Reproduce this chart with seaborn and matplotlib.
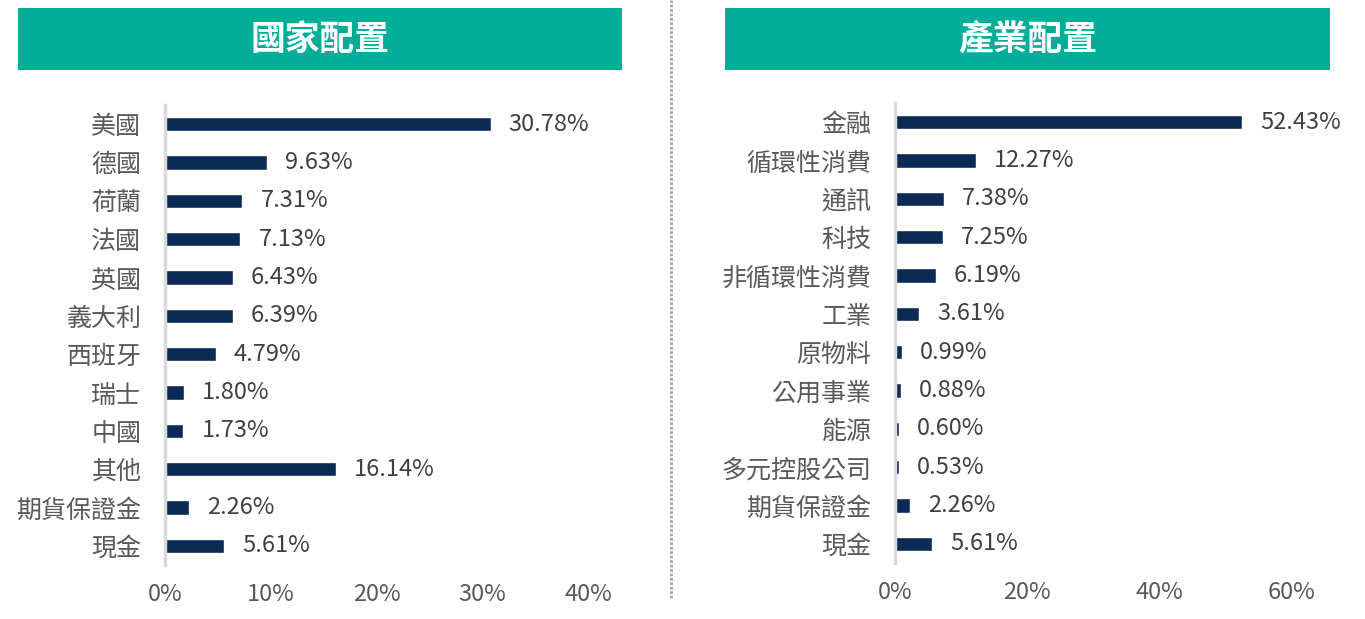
import pandas as pd
import seaborn as sns
import matplotlib.pyplot as plt
from matplotlib.patches import Rectangle
from matplotlib.lines import Line2D

# data
country_names = ['美國', '德國', '荷蘭', '法國', '英國', '義大利', '西班牙',
                 '瑞士', '中國', '其他', '期貨保證金', '現金']
country_pct = [30.78, 9.63, 7.31, 7.13, 6.43, 6.39, 4.79, 1.80, 1.73, 16.14, 2.26, 5.61]

sector_names = ['金融', '循環性消費', '通訊', '科技', '非循環性消費', '工業', '原物料',
                '公用事業', '能源', '多元控股公司', '期貨保證金', '現金']
sector_pct = [52.43, 12.27, 7.38, 7.25, 6.19, 3.61, 0.99, 0.88, 0.60, 0.53, 2.26, 5.61]

country_ticks = [0, 10, 20, 30, 40]
sector_ticks = [0, 20, 40, 60]

NAVY = '#0B2A56'
TEAL = '#00AE98'

sns.set_theme(style='white')
plt.rcParams['font.family'] = ['Noto Sans CJK TC', 'DejaVu Sans']

fig = plt.figure(figsize=(13.65, 6.19), dpi=100)


def draw_panel(rect, names, values, ticks, title, box):
    ax = fig.add_axes(rect)
    df = pd.DataFrame({'name': names, 'pct': values})
    sns.barplot(data=df, x='pct', y='name', orient='h', color=NAVY,
                width=0.37, saturation=1, ax=ax)
    ax.bar_label(ax.containers[0], labels=['%.2f%%' % v for v in values],
                 padding=13, fontsize=17, color='#404040')
    ax.set_xlim(ticks[0], ticks[-1])
    ax.set_ylim(len(names) - 0.5, -0.5)
    ax.set_xticks(ticks)
    ax.set_xticklabels(['%d%%' % t for t in ticks])
    ax.set_xlabel('')
    ax.set_ylabel('')
    ax.tick_params(axis='x', length=0, pad=13, labelsize=17, labelcolor='#595959')
    ax.tick_params(axis='y', length=0, pad=17, labelsize=18, labelcolor='#595959')
    for lab in ax.get_yticklabels():
        lab.set_va('center_baseline')
    for s in ['top', 'right', 'bottom']:
        ax.spines[s].set_visible(False)
    ax.spines['left'].set_color('#D9D9D9')
    ax.spines['left'].set_linewidth(2.5)
    ax.patch.set_alpha(0)
    ax.grid(False)
    # teal header
    fig.patches.append(Rectangle((box[0], box[1]), box[2], box[3], transform=fig.transFigure,
                                 facecolor=TEAL, edgecolor='none', zorder=0))
    fig.text(box[0] + box[2] / 2, box[1] + box[3] / 2, title, ha='center', va='center',
             fontsize=25, fontweight='bold', color='white')
    return ax


draw_panel([0.1209, 0.0872, 0.3099, 0.7432], country_names, country_pct,
           country_ticks, '國家配置', (0.0132, 0.8869, 0.4425, 0.1002))
draw_panel([0.6557, 0.0904, 0.2908, 0.7432], sector_names, sector_pct,
           sector_ticks, '產業配置', (0.5311, 0.8869, 0.4433, 0.1002))

# dotted separator
fig.lines.append(Line2D([0.4916, 0.4916], [0.034, 1.0], transform=fig.transFigure,
                        color='#A6A6A6', linestyle=(0, (1, 0.6)), linewidth=2))

fig.savefig('out.png', dpi=100)
